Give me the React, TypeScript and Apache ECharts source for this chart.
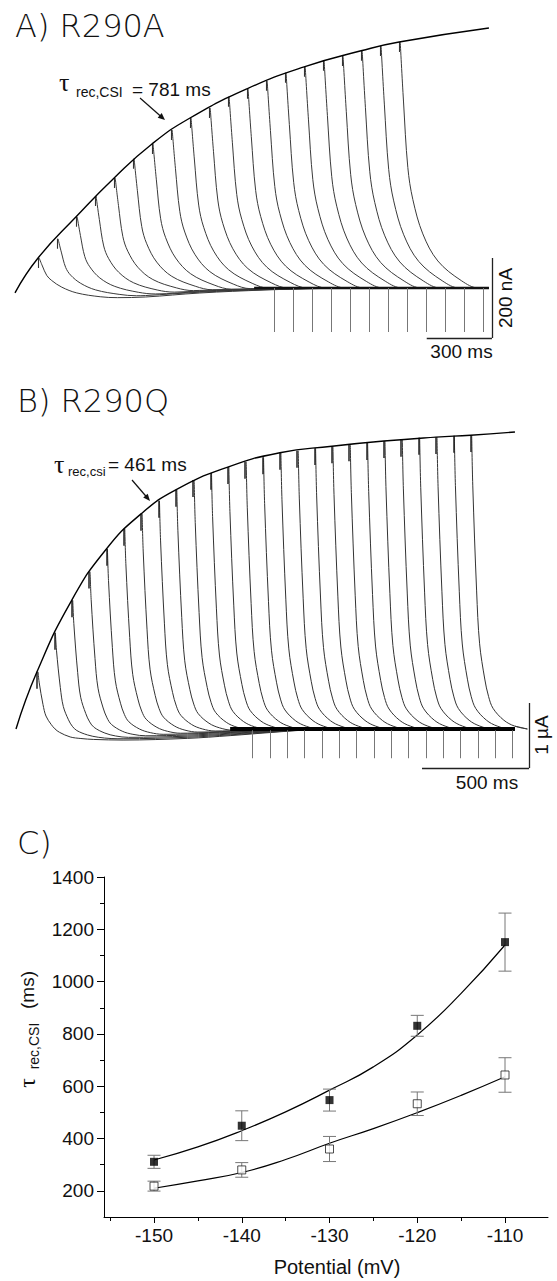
import React, { useEffect, useRef } from "react";
import * as echarts from "echarts";

// ---------------- Panel A : R290A (time in ms, current in nA) ----------------
const peakTimesA = [106, 193, 281, 368, 456, 543, 630, 718, 805, 893, 980, 1067, 1155, 1242, 1330, 1417, 1504, 1592, 1679, 1767];
const peakAmpsA = [75, 123, 178, 230, 275, 323, 360, 395, 425, 450, 478, 498, 518, 538, 553, 568, 580, 593, 605, 615];
const sagDepthA = [25, 21, 18, 15, 12, 10, 8, 6, 4, 3, 2, 1, 0, 0, 0, 0, 0, 0, 0, 0];
const envelopeTimesA = [0, 106, 281, 456, 630, 805, 1067, 1330, 1592, 1767, 2180];
const envelopeAmpsA = [-12, 75, 178, 275, 360, 425, 498, 553, 593, 615, 650];
// decay of one current trace: [ms after peak, fraction of peak]
const decayProfileA = [[0, 1], [15, 0.76], [35, 0.49], [58, 0.36], [104, 0.22], [173, 0.11], [281, 0.03], [360, 0]];
// slow undershoot of the early traces: [ms, fraction of depth]
const sagProfileA = [[0, 0], [100, 0.2], [250, 0.9], [400, 1], [600, 0.9], [850, 0.5], [1150, 0.2], [1400, 0.05], [1600, 0]];
const artifactTimesA = [1191, 1279, 1366, 1453, 1541, 1628, 1716, 1803, 1890, 1978, 2065, 2153];
const endTimeA = 2180;

// ---------------- Panel B : R290Q (time in ms, current in µA) ----------------
const peakTimesB = [98, 179, 260, 341, 422, 503, 584, 665, 746, 827, 908, 989, 1070, 1151, 1232, 1313, 1394, 1475, 1556, 1637, 1718, 1799, 1880, 1961, 2042, 2123];
const peakAmpsB = [0.88, 1.48, 1.98, 2.42, 2.77, 3.08, 3.31, 3.51, 3.68, 3.83, 3.94, 4.03, 4.11, 4.18, 4.25, 4.28, 4.32, 4.35, 4.38, 4.40, 4.43, 4.45, 4.48, 4.49, 4.51, 4.52];
const sagDepthB = [0.17, 0.15, 0.13, 0.11, 0.09, 0.075, 0.06, 0.045, 0.03, 0.02, 0.01, 0, 0, 0, 0, 0, 0, 0, 0, 0, 0, 0, 0, 0, 0, 0];
const envelopeTimesB = [0, 98, 260, 422, 584, 746, 989, 1232, 1475, 1718, 1961, 2123, 2330];
const envelopeAmpsB = [0, 0.88, 1.98, 2.77, 3.31, 3.68, 4.03, 4.25, 4.35, 4.43, 4.49, 4.52, 4.57];
const decayProfileB = [[0, 1], [5, 0.83], [23, 0.47], [37, 0.29], [61, 0.17], [79, 0.11], [100, 0.07], [150, 0.03], [200, 0.01], [260, 0]];
const sagProfileB = [[0, 0], [100, 0.3], [250, 0.9], [500, 1], [800, 0.85], [1000, 0.6], [1200, 0.3], [1350, 0.1], [1500, 0]];
const artifactTimesB = [1104, 1185, 1266, 1347, 1428, 1509, 1590, 1671, 1752, 1833, 1914, 1995, 2076, 2157, 2238, 2319];
const endTimeB = 2330;

// ---------------- Panel C ----------------
const potentials = [-150, -140, -130, -120, -110];
const tauR290A = [311, 449, 547, 831, 1151];
const errR290A = [25, 57, 42, 40, 111];
const tauR290Q = [218, 280, 360, 533, 643];
const errR290Q = [19, 28, 48, 45, 66];
const fitPotentials = [-150, -145, -140, -135, -130, -125, -120, -115, -110];
const fitR290A = [318, 368, 430, 502, 585, 674, 796, 955, 1140];
const fitR290Q = [210, 238, 270, 320, 382, 438, 499, 565, 636];
const xMajorTicks = [-150, -140, -130, -120, -110];
const xMinorTicks = [-155, -145, -135, -125, -115];
const yMajorTicks = [200, 400, 600, 800, 1000, 1200, 1400];
const yMinorTicks = [300, 500, 700, 900, 1100, 1300];

function lerp(profile: number[][], t: number): number {
  if (t <= profile[0][0]) return profile[0][1];
  for (let i = 1; i < profile.length; i++) {
    if (t <= profile[i][0]) {
      const [t0, v0] = profile[i - 1];
      const [t1, v1] = profile[i];
      return v0 + ((v1 - v0) * (t - t0)) / (t1 - t0);
    }
  }
  return profile[profile.length - 1][1];
}

function buildTrace(t0: number, amp: number, sag: number, decay: number[][], sagProf: number[][], gap: number, tEnd: number) {
  const start = t0 + gap;
  const decayEnd = start + decay[decay.length - 1][0];
  const times = decay.map(([dt]) => start + dt);
  if (sag > 0) sagProf.forEach(([t]) => { if (t > decayEnd + 20 && t < tEnd) times.push(t); });
  times.push(tEnd);
  return times.map((t) => {
    const f = lerp(decay, t - start);
    return [t, amp * f - sag * lerp(sagProf, t) * (1 - f)];
  });
}

const SANS = "'Liberation Sans', Arial, sans-serif";
const TITLE = "'DejaVu Sans', sans-serif";
const SERIF = "'Liberation Serif', 'DejaVu Serif', serif";

function txt(text: string, x: number, y: number, size: number, opts: any = {}) {
  return {
    type: "text",
    x,
    y,
    rotation: opts.rotation || 0,
    silent: true,
    style: {
      text,
      fontSize: size,
      fontFamily: opts.family || SANS,
      fontWeight: opts.weight || "normal",
      fill: "#111",
      textAlign: opts.align || "left",
      textVerticalAlign: "middle",
    },
  };
}

export default function App() {
  const ref = useRef<HTMLDivElement>(null);

  useEffect(() => {
    if (!ref.current) return;
    const chart = echarts.init(ref.current, undefined, { renderer: "svg" });

    const traces = (times: number[], amps: number[], sags: number[], decay: number[][], sagProf: number[][], gap: number, tEnd: number, axis: number, color: string) =>
      times.map((t0, i) => ({
        type: "line",
        xAxisIndex: axis,
        yAxisIndex: axis,
        data: buildTrace(t0, amps[i], sags[i], decay, sagProf, gap, tEnd),
        symbol: "none",
        smooth: 0.35,
        lineStyle: { color, width: 1 },
        silent: true,
        z: 2,
      }));

    const segs = (axis: number, segments: number[][][], color: string, width: number) => ({
      type: "lines",
      coordinateSystem: "cartesian2d",
      xAxisIndex: axis,
      yAxisIndex: axis,
      data: segments.map((c) => ({ coords: c })),
      lineStyle: { color, width, opacity: 1 },
      silent: true,
      z: 3,
    });

    const errorBars = (vals: number[], errs: number[]) => ({
      type: "custom",
      xAxisIndex: 2,
      yAxisIndex: 2,
      data: potentials.map((p, i) => [p, vals[i] - errs[i], vals[i] + errs[i]]),
      encode: { x: 0, y: [1, 2] },
      renderItem: (_params: any, api: any) => {
        const x = api.value(0);
        const lo = api.coord([x, api.value(1)]);
        const hi = api.coord([x, api.value(2)]);
        const w = 6.5;
        const style = { stroke: "#777", lineWidth: 1 };
        return {
          type: "group",
          children: [
            { type: "line", shape: { x1: lo[0], y1: lo[1], x2: hi[0], y2: hi[1] }, style },
            { type: "line", shape: { x1: lo[0] - w, y1: lo[1], x2: lo[0] + w, y2: lo[1] }, style },
            { type: "line", shape: { x1: hi[0] - w, y1: hi[1], x2: hi[0] + w, y2: hi[1] }, style },
          ],
        };
      },
      silent: true,
      z: 3,
    });

    const hidden = { show: false };
    const option: any = {
      animation: false,
      grid: [
        { left: 15, top: 20, width: 500, height: 320, outerBoundsMode: "none" },
        { left: 16, top: 380, width: 530, height: 410, outerBoundsMode: "none" },
        { left: 104, top: 877, width: 444, height: 340, outerBoundsMode: "none" },
      ],
      xAxis: [
        { gridIndex: 0, type: "value", min: 0, max: 2300, ...hidden },
        { gridIndex: 1, type: "value", min: 0, max: 2475, ...hidden },
        {
          gridIndex: 2, type: "value", min: -155.7, max: -105.1, position: "bottom",
          axisLine: { show: true, lineStyle: { color: "#000", width: 1 } },
          axisTick: { show: true, customValues: xMajorTicks, length: 6, inside: false, lineStyle: { color: "#000" } },
          axisLabel: { show: true, customValues: xMajorTicks, fontSize: 19, fontFamily: SANS, color: "#111", margin: 9, formatter: (v: number) => String(v) },
          splitLine: { show: false },
        },
        {
          gridIndex: 2, type: "value", min: -155.7, max: -105.1, position: "bottom",
          axisLine: { show: false },
          axisTick: { show: true, customValues: xMinorTicks, length: 4, lineStyle: { color: "#000" } },
          axisLabel: { show: false },
          splitLine: { show: false },
        },
      ],
      yAxis: [
        { gridIndex: 0, type: "value", min: -130, max: 670, ...hidden },
        { gridIndex: 1, type: "value", min: -0.9385, max: 5.3692, ...hidden },
        {
          gridIndex: 2, type: "value", min: 100, max: 1400, position: "left",
          axisLine: { show: true, lineStyle: { color: "#000", width: 1 } },
          axisTick: { show: true, customValues: yMajorTicks, length: 7, lineStyle: { color: "#000" } },
          axisLabel: { show: true, customValues: yMajorTicks, fontSize: 19, fontFamily: SANS, color: "#111", margin: 10, formatter: (v: number) => String(v) },
          splitLine: { show: false },
        },
        {
          gridIndex: 2, type: "value", min: 100, max: 1400, position: "left",
          axisLine: { show: false },
          axisTick: { show: true, customValues: yMinorTicks, length: 4, lineStyle: { color: "#000" } },
          axisLabel: { show: false },
          splitLine: { show: false },
        },
      ],
      series: [
        // ---- Panel A
        ...traces(peakTimesA, peakAmpsA, sagDepthA, decayProfileA, sagProfileA, 5, endTimeA, 0, "#3a3a3a"),
        {
          type: "line", xAxisIndex: 0, yAxisIndex: 0, symbol: "none", silent: true, z: 2,
          data: [[1100, 0], [endTimeA, 0]], lineStyle: { color: "#111", width: 2.6 },
        },
        segs(0, peakTimesA.map((t, i) => [[t, peakAmpsA[i]], [t, peakAmpsA[i] - 25]]), "#333", 1.1),
        segs(0, artifactTimesA.map((t) => [[t, 0], [t, -110]]), "#777", 1),
        {
          type: "line", xAxisIndex: 0, yAxisIndex: 0, symbol: "none", silent: true, z: 4,
          smooth: 0.5,
          data: envelopeTimesA.map((t, i) => [t, envelopeAmpsA[i]]),
          lineStyle: { color: "#000", width: 1.4 },
        },
        segs(0, [[[2194, 75], [2194, -125]], [[1894, -125], [2194, -125]]], "#222", 1.3),
        // ---- Panel B
        ...traces(peakTimesB, peakAmpsB, sagDepthB, decayProfileB, sagProfileB, 5, endTimeB, 1, "#333"),
        {
          type: "line", xAxisIndex: 1, yAxisIndex: 1, symbol: "none", silent: true, z: 2,
          data: [[1000, 0], [endTimeB, 0]], lineStyle: { color: "#000", width: 4 },
        },
        segs(1, peakTimesB.map((t, i) => [[t, peakAmpsB[i]], [t, peakAmpsB[i] - 0.26]]), "#222", 1.5),
        segs(1, artifactTimesB.map((t) => [[t, -0.02], [t, -0.45]]), "#777", 1),
        {
          type: "line", xAxisIndex: 1, yAxisIndex: 1, symbol: "none", silent: true, z: 4,
          smooth: 0.5,
          data: envelopeTimesB.map((t, i) => [t, envelopeAmpsB[i]]),
          lineStyle: { color: "#000", width: 1.4 },
        },
        segs(1, [[[2396, 0.4], [2396, -0.6]], [[1896, -0.6], [2396, -0.6]]], "#222", 1.3),
        // ---- Panel C
        {
          type: "line", xAxisIndex: 2, yAxisIndex: 2, symbol: "none", silent: true, z: 2,
          smooth: 0.5,
          data: fitPotentials.map((p, i) => [p, fitR290A[i]]),
          lineStyle: { color: "#000", width: 1.2 },
        },
        {
          type: "line", xAxisIndex: 2, yAxisIndex: 2, symbol: "none", silent: true, z: 2,
          smooth: 0.5,
          data: fitPotentials.map((p, i) => [p, fitR290Q[i]]),
          lineStyle: { color: "#000", width: 1.2 },
        },
        errorBars(tauR290A, errR290A),
        errorBars(tauR290Q, errR290Q),
        {
          type: "scatter", xAxisIndex: 2, yAxisIndex: 2, symbol: "rect", symbolSize: 8, silent: true, z: 5,
          data: potentials.map((p, i) => [p, tauR290A[i]]),
          itemStyle: { color: "#000" },
        },
        {
          type: "scatter", xAxisIndex: 2, yAxisIndex: 2, symbol: "rect", symbolSize: 8, silent: true, z: 5,
          data: potentials.map((p, i) => [p, tauR290Q[i]]),
          itemStyle: { color: "#fff", borderColor: "#222", borderWidth: 1 },
        },
      ],
      graphic: [
        txt("A) R290A", 15, 26, 32, { family: TITLE, weight: 200 }),
        txt("τ", 59, 82, 26, { family: SERIF }),
        txt("rec,CSI", 76, 91.5, 14),
        txt("= 781 ms", 132, 89.5, 19),
        { type: "line", silent: true, shape: { x1: 140, y1: 98, x2: 161, y2: 116.5 }, style: { stroke: "#111", lineWidth: 1.2 } },
        { type: "polygon", silent: true, shape: { points: [[165, 120], [157.7, 117.7], [161.7, 113.1]] }, style: { fill: "#111" } },
        txt("200 nA", 505, 298, 19, { rotation: Math.PI / 2, align: "center" }),
        txt("300 ms", 461.5, 351.5, 19, { align: "center" }),

        txt("B) R290Q", 17, 401, 32, { family: TITLE, weight: 200 }),
        txt("τ", 54, 464.4, 26, { family: SERIF }),
        txt("rec,csi", 68, 471.4, 13),
        txt("= 461 ms", 108, 464.7, 19),
        { type: "line", silent: true, shape: { x1: 132, y1: 480, x2: 147.5, y2: 498 }, style: { stroke: "#111", lineWidth: 1.2 } },
        { type: "polygon", silent: true, shape: { points: [[150, 501], [143.2, 497.6], [147.7, 493.7]] }, style: { fill: "#111" } },
        txt("1 µA", 541, 735, 19, { rotation: Math.PI / 2, align: "center" }),
        txt("500 ms", 487, 782.5, 19, { align: "center" }),

        txt("C)", 17, 843, 32, { family: TITLE, weight: 200 }),
        txt("τ", 27, 1083, 24, { family: SERIF, rotation: Math.PI / 2, align: "center" }),
        txt("rec,CSI", 34, 1046, 14, { rotation: Math.PI / 2, align: "center" }),
        txt("(ms)", 27, 990, 19, { rotation: Math.PI / 2, align: "center" }),
        txt("Potential (mV)", 337, 1267, 20, { align: "center" }),
      ],
    };

    chart.setOption(option);
    return () => chart.dispose();
  }, []);

  return <div ref={ref} style={{ position: "absolute", left: 0, top: 0, width: 557, height: 1281, background: "#fff" }} />;
}
